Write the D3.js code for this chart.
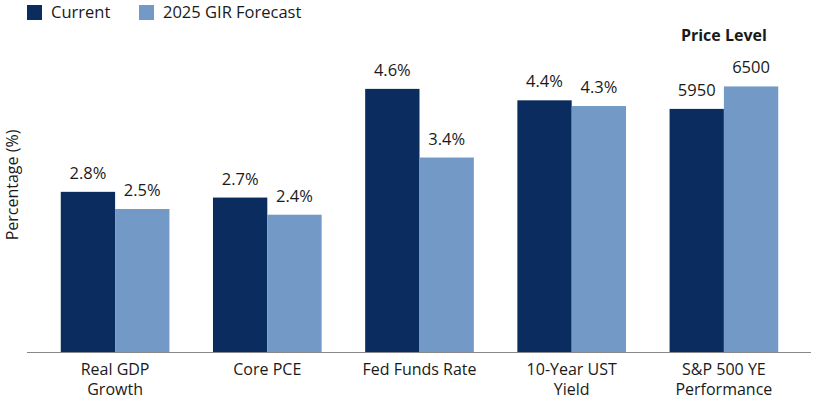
<!DOCTYPE html>
<html>
<head>
<meta charset="utf-8">
<script src="https://cdn.jsdelivr.net/npm/d3@7"></script>
<style>
  body { margin: 0; background: #fff; }
  text { font-family: "Open Sans", "Noto Sans", sans-serif; fill: #1a1a1a; }
</style>
</head>
<body>
<div id="chart"></div>
<script>
// chart data
var categories = [["Real GDP", "Growth"], ["Core PCE"], ["Fed Funds Rate"], ["10-Year UST", "Yield"], ["S&P 500 YE", "Performance"]];
var current = [2.8, 2.7, 4.6, 4.4, 5950];
var forecast = [2.5, 2.4, 3.4, 4.3, 6500];
var labelsCurrent = ["2.8%", "2.7%", "4.6%", "4.4%", "5950"];
var labelsForecast = ["2.5%", "2.4%", "3.4%", "4.3%", "6500"];
var seriesNames = ["Current", "2025 GIR Forecast"];
var colors = ["#0b2c5f", "#7399c7"];

var width = 815, height = 400;
var margin = {top: 66, bottom: 48, left: 39, right: 15};

var svg = d3.select("#chart")
  .append("svg")
    .attr("width", width)
    .attr("height", height);

var x = d3.scaleBand()
  .domain(d3.range(categories.length))
  .range([margin.left, width - margin.right])
  .paddingInner(0.286)
  .paddingOuter(0.143);

var sub = d3.scaleBand()
  .domain([0, 1])
  .range([0, x.bandwidth()]);

// percent scale, and a second one for the S&P price level
var y = d3.scaleLinear().domain([0, 5]).range([height - margin.bottom, margin.top]);
var yPrice = d3.scaleLinear().domain([0, 7000]).range([height - margin.bottom, margin.top]);

var scaleFor = function(i) { return i === 4 ? yPrice : y; };

var groups = svg.selectAll(".grp")
  .data(categories)
  .enter().append("g")
    .attr("transform", function(d, i) { return "translate(" + x(i) + ",0)"; });

[current, forecast].forEach(function(series, s) {
  var lbls = s === 0 ? labelsCurrent : labelsForecast;
  groups.append("rect")
    .attr("x", sub(s))
    .attr("width", sub.bandwidth())
    .attr("y", function(d, i) { return scaleFor(i)(series[i]); })
    .attr("height", function(d, i) { return scaleFor(i)(0) - scaleFor(i)(series[i]); })
    .attr("fill", colors[s]);
  groups.append("text")
    .attr("x", sub(s) + sub.bandwidth() / 2)
    .attr("y", function(d, i) { return scaleFor(i)(series[i]) - 13; })
    .attr("text-anchor", "middle")
    .style("font-size", "16.5px")
    .text(function(d, i) { return lbls[i]; });
});

// baseline
svg.append("line")
  .attr("x1", 27).attr("x2", 811)
  .attr("y1", y(0) + 0.5).attr("y2", y(0) + 0.5)
  .attr("stroke", "#888").attr("stroke-width", 1);

// category labels
groups.append("text")
  .attr("x", x.bandwidth() / 2)
  .attr("y", 375)
  .attr("text-anchor", "middle")
  .style("font-size", "16px")
  .selectAll("tspan")
  .data(function(d) { return d; })
  .enter().append("tspan")
    .attr("x", x.bandwidth() / 2)
    .attr("dy", function(d, i) { return i === 0 ? 0 : 20; })
    .text(function(d) { return d; });

// price level heading
svg.append("text")
  .attr("x", x(4) + x.bandwidth() / 2)
  .attr("y", 41)
  .attr("text-anchor", "middle")
  .style("font-size", "16px")
  .style("font-weight", "bold")
  .text("Price Level");

// y axis title
svg.append("text")
  .attr("transform", "translate(18,185) rotate(-90)")
  .attr("text-anchor", "middle")
  .style("font-size", "16px")
  .text("Percentage (%)");

// legend
var legend = svg.append("g");
var legX = [27, 139];
seriesNames.forEach(function(n, i) {
  legend.append("rect")
    .attr("x", legX[i]).attr("y", 5)
    .attr("width", 15).attr("height", 15)
    .attr("fill", colors[i]);
  legend.append("text")
    .attr("x", legX[i] + 24).attr("y", 18)
    .style("font-size", "16.5px")
    .text(n);
});
</script>
</body>
</html>
